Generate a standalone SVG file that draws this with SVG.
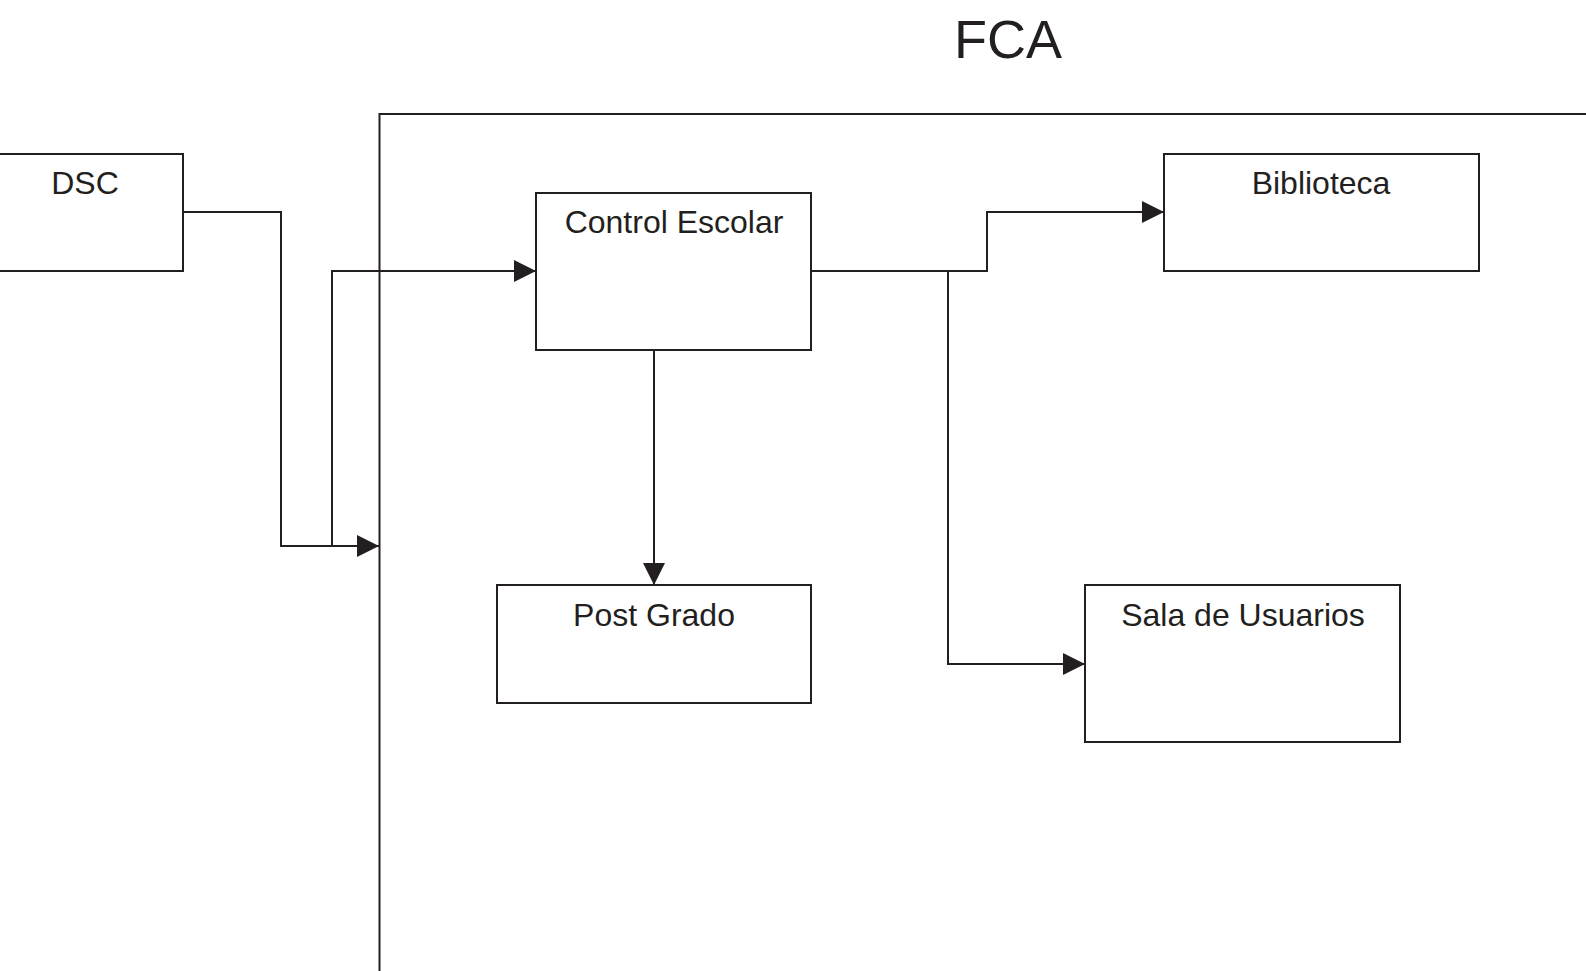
<svg xmlns="http://www.w3.org/2000/svg" width="1586" height="971" viewBox="0 0 1586 971">
  <style>
    .box { fill: #ffffff; stroke: #231f20; stroke-width: 2; }
    .label { font-family: "Liberation Sans", Arial, sans-serif; font-size: 32px; fill: #231f20; text-anchor: middle; }
    .title { font-family: "Liberation Sans", Arial, sans-serif; font-size: 54px; fill: #231f20; text-anchor: middle; }
    .wire { fill: none; stroke: #231f20; stroke-width: 2; }
    .frame { fill: none; stroke: #231f20; stroke-width: 2; }
  </style>
  <defs>
    <marker id="arrow" markerUnits="userSpaceOnUse" markerWidth="22" markerHeight="22" viewBox="0 0 20 20" refX="20" refY="10" orient="auto">
      <path d="M0,0 L20,10 L0,20 Z" fill="#231f20"/>
    </marker>
  </defs>
  <rect x="0" y="0" width="1586" height="971" fill="#ffffff"/>

  <!-- FCA boundary -->
  <g id="fca">
    <text class="title" x="1008" y="58">FCA</text>
    <path class="frame" d="M379.5,980 V114 H1595"/>
  </g>

  <!-- nodes -->
  <g id="dsc">
    <rect class="box" x="-5" y="154" width="188" height="117"/>
    <text class="label" x="85" y="194">DSC</text>
  </g>
  <g id="control-escolar">
    <rect class="box" x="536" y="193" width="275" height="157"/>
    <text class="label" x="674" y="233">Control Escolar</text>
  </g>
  <g id="biblioteca">
    <rect class="box" x="1164" y="154" width="315" height="117"/>
    <text class="label" x="1321" y="194">Biblioteca</text>
  </g>
  <g id="post-grado">
    <rect class="box" x="497" y="585" width="314" height="118"/>
    <text class="label" x="654" y="626">Post Grado</text>
  </g>
  <g id="sala-usuarios">
    <rect class="box" x="1085" y="585" width="315" height="157"/>
    <text class="label" x="1243" y="626">Sala de Usuarios</text>
  </g>

  <!-- connectors -->
  <g id="connectors">
    <path class="wire" d="M183,212 H281 V546 H379" marker-end="url(#arrow)"/>
    <path class="wire" d="M379,546 H332 V271 H536" marker-end="url(#arrow)"/>
    <path class="wire" d="M654,350 V585" marker-end="url(#arrow)"/>
    <path class="wire" d="M811,271 H987 V212 H1164" marker-end="url(#arrow)"/>
    <path class="wire" d="M948,271 V664 H1085" marker-end="url(#arrow)"/>
  </g>
</svg>
